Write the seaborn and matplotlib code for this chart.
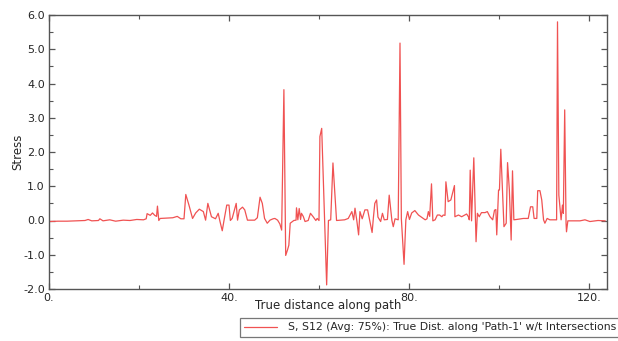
import pandas as pd
import matplotlib
matplotlib.use("Agg")
import matplotlib.pyplot as plt
from matplotlib.ticker import MultipleLocator, FixedLocator
import seaborn as sns

# distance along path and S12 stress
dist = [0, 2, 4, 6, 8, 8.7, 9.5, 11, 11.3, 12,
        13.5, 14.8, 16.5, 18, 19.5, 21, 21.6, 21.8, 22.5, 23,
        23.5, 23.9, 24.1, 24.4, 24.7, 26, 27.5, 28.5, 29.3, 30.0,
        30.4, 31.1, 31.9, 32.6, 33.4, 34.3, 34.8, 35.3, 35.8, 36.1,
        37.0, 37.6, 38.0, 38.5, 38.9, 39.5, 40.0, 40.3, 40.7, 41.2,
        41.6, 41.9, 42.3, 43.0, 43.5, 44.1, 45.7, 46.3, 46.9, 47.4,
        47.9, 48.5, 49.1, 49.8, 50.2, 50.8, 51.3, 51.7, 52.2, 52.6,
        53.0, 53.3, 53.6, 54.4, 54.9, 55.0, 55.3, 55.6, 55.9, 56.1,
        56.5, 56.9, 57.6, 58.1, 58.7, 59.3, 59.6, 60.0, 60.2, 60.6,
        61.7, 62.1, 62.6, 63.1, 63.9, 65.7, 66.5, 67.3, 67.7, 68.0,
        68.4, 68.8, 69.1, 69.6, 70.2, 70.8, 71.2, 71.8, 72.1, 72.4,
        72.8, 73.1, 73.7, 74.1, 74.5, 75.2, 75.6, 76.2, 76.5, 76.9,
        77.6, 78.0, 78.3, 78.9, 79.3, 79.7, 80.1, 80.6, 81.3, 82.1,
        83.6, 84.0, 84.3, 84.6, 85.0, 85.3, 85.8, 86.3, 86.8, 87.3,
        87.6, 88.0, 88.2, 88.7, 89.3, 90.1, 90.2, 91.0, 91.7, 92.4,
        92.8, 93.2, 93.4, 93.6, 93.9, 94.4, 94.9, 95.2, 95.6, 96.1,
        96.9, 97.4, 98.0, 98.6, 99.0, 99.3, 99.5, 99.9, 100.1, 100.4,
        100.8, 101.1, 101.6, 101.9, 102.3, 102.7, 103.0, 103.3, 103.9, 105.4,
        106.5, 107.0, 107.5, 107.8, 108.4, 108.6, 109.1, 109.5, 109.9, 110.2,
        110.7, 111.3, 112.8, 113.0, 113.3, 113.8, 114.1, 114.3, 114.6, 114.9,
        115.0, 115.3, 116.5, 118.0, 119.1, 120.2, 122.0, 123.6]

stress = [-0.03, -0.02, -0.02, -0.01, 0.0, 0.03, -0.01, 0.0, 0.05, -0.01,
          0.02, -0.02, 0.01, 0.0, 0.03, 0.02, 0.05, 0.20, 0.15, 0.22,
          0.15, 0.12, 0.42, 0.0, 0.06, 0.07, 0.08, 0.12, 0.05, 0.05,
          0.76, 0.45, 0.06, 0.22, 0.33, 0.26, 0.01, 0.50, 0.26, 0.11,
          0.05, 0.21, -0.03, -0.30, 0.01, 0.45, 0.45, 0.0, 0.06, 0.31,
          0.50, 0.01, 0.31, 0.39, 0.31, 0.01, 0.01, 0.08, 0.68, 0.50,
          0.06, -0.08, 0.01, 0.05, 0.06, 0.01, -0.10, -0.28, 3.82, -1.02,
          -0.86, -0.72, -0.08, 0.0, 0.01, 0.37, 0.02, 0.35, 0.03, 0.21,
          0.12, -0.03, 0.0, 0.21, 0.11, 0.0, 0.06, 0.0, 2.45, 2.69,
          -1.88, 0.0, 0.02, 1.68, 0.0, 0.02, 0.06, 0.26, 0.02, 0.36,
          0.0, -0.42, 0.26, 0.05, 0.31, 0.31, 0.05, -0.35, 0.10, 0.50,
          0.60, 0.10, -0.03, 0.21, 0.02, 0.03, 0.74, 0.0, -0.18, 0.05,
          0.02, 5.18, 0.05, -1.28, 0.02, 0.26, 0.03, 0.22, 0.29, 0.16,
          0.02, 0.05, 0.26, 0.12, 1.07, -0.01, 0.02, 0.16, 0.16, 0.11,
          0.16, 0.15, 1.13, 0.55, 0.60, 1.02, 0.11, 0.16, 0.11, 0.16,
          0.19, 0.11, 0.02, 1.47, -0.01, 1.83, -0.62, 0.21, 0.11, 0.23,
          0.23, 0.26, 0.11, 0.02, 0.30, 0.32, -0.42, 0.89, 0.89, 2.08,
          0.79, -0.18, -0.08, 1.69, 0.90, -0.57, 1.45, 0.02, 0.03, 0.06,
          0.06, 0.40, 0.40, 0.06, 0.06, 0.87, 0.87, 0.60, 0.02, -0.08,
          0.06, 0.02, 0.02, 5.80, 0.74, 0.02, 0.45, 0.21, 3.23, -0.08,
          -0.33, -0.01, -0.01, -0.01, 0.02, -0.03, 0.0, -0.01]

x_ticks = [0, 40, 80, 120]
x_tick_labels = ["0.", "40.", "80.", "120."]
y_ticks = [-2, -1, 0, 1, 2, 3, 4, 5, 6]
y_tick_labels = ["-2.0", "-1.0", "0.0", "1.0", "2.0", "3.0", "4.0", "5.0", "6.0"]
series_name = "S, S12 (Avg: 75%): True Dist. along 'Path-1' w/t Intersections"

df = pd.DataFrame({"dist": dist, "stress": stress})

sns.set_style("ticks")
plt.rcParams["font.family"] = ["DejaVu Sans"]

fig = plt.figure(figsize=(6.18, 3.41), dpi=100)
ax = fig.add_axes([49 / 618, 52 / 341, 558 / 618, 274 / 341])

sns.lineplot(data=df, x="dist", y="stress", ax=ax, color="#f05252",
             linewidth=0.9, label=series_name, legend=False)

ax.set_xlim(0, 124)
ax.set_ylim(-2, 6)
ax.xaxis.set_major_locator(FixedLocator(x_ticks))
ax.set_xticklabels(x_tick_labels)
ax.xaxis.set_minor_locator(MultipleLocator(20))
ax.yaxis.set_major_locator(FixedLocator(y_ticks))
ax.set_yticklabels(y_tick_labels)
ax.yaxis.set_minor_locator(MultipleLocator(0.5))
ax.tick_params(which="both", direction="in", top=True, right=True,
               color="#555555", labelsize=8, pad=3)
ax.tick_params(which="major", length=4, width=0.9)
ax.tick_params(which="minor", length=3, width=0.8)
for s in ax.spines.values():
    s.set_color("#555555")
    s.set_linewidth(1.0)

ax.set_xlabel("True distance along path", fontsize=8.5)
ax.set_ylabel("Stress", fontsize=8.5)
ax.xaxis.set_label_coords(0.5, -0.037)
ax.yaxis.set_label_coords(-0.045, 0.5)

handles, labels = ax.get_legend_handles_labels()
leg = fig.legend(handles, labels, loc="upper left",
                 bbox_to_anchor=(240 / 618, 1 - 318 / 341), fontsize=7.8,
                 frameon=True, fancybox=False, handlelength=3,
                 handletextpad=1.0, borderpad=0.4, borderaxespad=0)
leg.get_frame().set_edgecolor("#555555")
leg.get_frame().set_linewidth(0.9)

fig.savefig("out.png", dpi=100)
